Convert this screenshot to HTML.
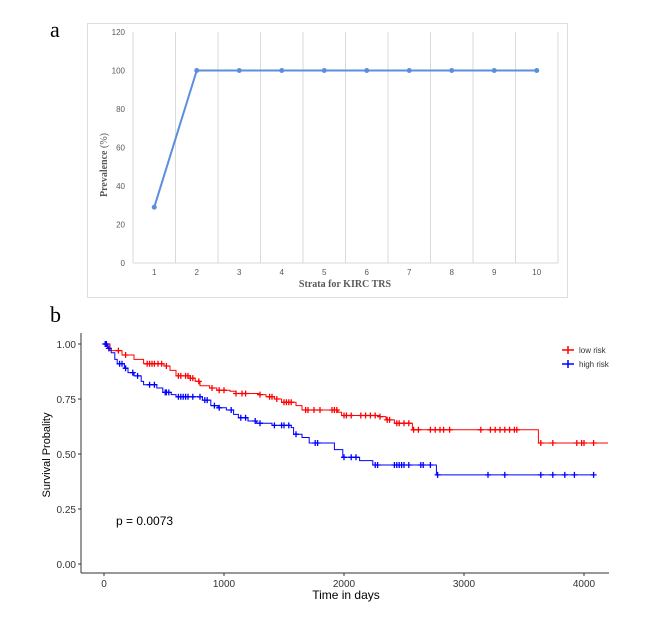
<!DOCTYPE html>
<html><head><meta charset="utf-8"><style>
body{margin:0;background:#fff;}
svg{display:block;font-family:"Liberation Sans",sans-serif;}
</style></head><body>
<svg id="svg" width="649" height="620" viewBox="0 0 649 620">
<text x="50" y="37" font-family="Liberation Serif,serif" font-size="22">a</text>
<rect x="87.5" y="23.5" width="480" height="274" fill="none" stroke="#ddd"/>
<g id="ga"></g>
<text x="50" y="322" font-family="Liberation Serif,serif" font-size="22">b</text>
<g id="gb"></g>
</svg>
<script>
const NS="http://www.w3.org/2000/svg";
function mk(p,t,a,txt){const e=document.createElementNS(NS,t);for(const k in a)e.setAttribute(k,a[k]);if(txt!==undefined)e.textContent=txt;p.appendChild(e);return e;}
// Panel a data
const strata=["1","2","3","4","5","6","7","8","9","10"];
const prevalence=[29,100,100,100,100,100,100,100,100,100];
const aYTicks=[0,20,40,60,80,100,120];
// Panel b data
const lowTimes=[0,50,150,250,330,500,550,600,720,760,800,880,940,1050,1100,1290,1350,1420,1480,1600,1650,1950,1980,2300,2350,2420,2570,3620];
const lowSurv=[1,0.97,0.95,0.93,0.91,0.9,0.88,0.855,0.845,0.83,0.81,0.8,0.79,0.785,0.775,0.77,0.76,0.75,0.735,0.72,0.7,0.69,0.675,0.67,0.655,0.64,0.61,0.55];
const lowCensor=[20,120,180,360,380,400,420,450,480,520,620,640,680,700,720,740,790,900,960,1000,1100,1150,1180,1300,1380,1400,1440,1500,1520,1540,1560,1680,1700,1750,1800,1900,1920,1940,2000,2020,2060,2140,2180,2220,2260,2300,2360,2380,2440,2460,2500,2540,2580,2620,2720,2760,2800,2830,2880,3140,3220,3260,3300,3340,3380,3420,3440,3640,3740,3940,3980,4000,4080];
const highTimes=[0,30,60,90,110,170,200,250,310,330,440,490,560,600,820,890,950,1020,1080,1120,1200,1270,1400,1560,1580,1650,1710,1920,1990,2130,2240,2770];
const highSurv=[1,0.98,0.96,0.93,0.91,0.89,0.87,0.855,0.83,0.815,0.8,0.78,0.77,0.76,0.745,0.72,0.71,0.7,0.68,0.665,0.65,0.64,0.63,0.62,0.59,0.575,0.55,0.52,0.485,0.47,0.45,0.405];
const highCensor=[10,20,40,130,150,180,240,280,380,420,510,520,540,620,640,660,680,700,740,800,840,860,920,960,1060,1140,1180,1260,1300,1420,1480,1500,1540,1600,1760,1780,2000,2060,2100,2260,2280,2420,2440,2460,2480,2500,2540,2640,2660,2720,2780,3200,3340,3640,3740,3840,3920,4080];
const bYTicks=[0,0.25,0.5,0.75,1.0];
const bXTicks=[0,1000,2000,3000,4000];

// Panel a
const ga=document.getElementById('ga');
const aL=133,aR=558,aT=32,aB=263;
const ax=i=>aL+(i+0.5)*(aR-aL)/strata.length;
const ay=v=>aB-(v/120)*(aB-aT);
for(let i=0;i<=strata.length;i++){const x=aL+i*(aR-aL)/strata.length;const l=mk(ga,'line',{x1:x,x2:x,y1:aT,y2:aB,stroke:'#d9d9d9','stroke-width':1});

}
let l0=mk(ga,'line',{x1:aL,x2:aR,y1:aB,y2:aB,stroke:'#d9d9d9'});

aYTicks.forEach(v=>{const t=mk(ga,'text',{x:aL-8,y:ay(v)+3,'font-size':8,fill:'#595959','text-anchor':'end'},v);

});
strata.forEach((s,i)=>{const t=mk(ga,'text',{x:ax(i),y:aB+12,'font-size':8,fill:'#595959','text-anchor':'middle'},s);

});
const pl=mk(ga,'polyline',{points:prevalence.map((v,i)=>ax(i)+','+ay(v)).join(' '),fill:'none',stroke:'#5b8fde','stroke-width':2});


prevalence.forEach((v,i)=>{const c=mk(ga,'circle',{cx:ax(i),cy:ay(v),r:2.5,fill:'#5b8fde'});

});
let t1=mk(ga,'text',{x:345,y:287,'font-size':10,'font-weight':'bold','font-family':'Liberation Serif,serif',fill:'#595959','text-anchor':'middle'},'Strata for KIRC TRS');

let t2=mk(ga,'text',{x:0,y:0,'font-size':10,'font-family':'Liberation Serif,serif',fill:'#595959','text-anchor':'middle',transform:'translate(107,165) rotate(-90)'});

mk(t2,'tspan',{'font-weight':'bold'},'Prevalence');mk(t2,'tspan',{},' (%)');

// Panel b
const gb=document.getElementById('gb');
const bL=81,bR=609,bT=333,bB=573;
const bx=t=>104+t*0.12;
const by=s=>564-s*220;
let ya=mk(gb,'line',{x1:bL,x2:bL,y1:bT,y2:bB,stroke:'#333'});

let xa=mk(gb,'line',{x1:bL,x2:bR,y1:bB,y2:bB,stroke:'#333'});

bYTicks.forEach(v=>{mk(gb,'line',{x1:bL-3,x2:bL,y1:by(v),y2:by(v),stroke:'#333'});
const t=mk(gb,'text',{x:bL-5,y:by(v)+4,'font-size':10,fill:'#333','text-anchor':'end'},v.toFixed(2));

});
bXTicks.forEach(v=>{mk(gb,'line',{x1:bx(v),x2:bx(v),y1:bB,y2:bB+3,stroke:'#333'});
const t=mk(gb,'text',{x:bx(v),y:bB+14,'font-size':10,fill:'#333','text-anchor':'middle'},v);

});
let xt=mk(gb,'text',{x:346,y:599,'font-size':12,fill:'#000','text-anchor':'middle'},'Time in days');

let yt=mk(gb,'text',{x:0,y:0,'font-size':11,fill:'#000','text-anchor':'middle',transform:'translate(50,455) rotate(-90)'},'Survival Probality');

let pv=mk(gb,'text',{x:116,y:525,'font-size':12,fill:'#000'},'p = 0.0073');

function stepAt(times,surv,t){let s=surv[0];for(let i=0;i<times.length;i++)if(times[i]<=t)s=surv[i];return s;}
function drawKM(times,surv,cens,end,color,name){
  let d='M'+bx(times[0])+','+by(surv[0]);
  for(let i=1;i<times.length;i++){d+=' H'+bx(times[i])+' V'+by(surv[i]);}
  d+=' H'+bx(end);
  const p=mk(gb,'path',{d:d,fill:'none',stroke:color,'stroke-width':1});
  
  
  cens.forEach(t=>{const x=bx(t),y=by(stepAt(times,surv,t));
    const c=mk(gb,'path',{d:`M${x-3},${y}H${x+3}M${x},${y-3}V${y+3}`,stroke:color,'stroke-width':1.3});
    
    });
}
drawKM(lowTimes,lowSurv,lowCensor,4200,'#ff0000','low-risk');
drawKM(highTimes,highSurv,highCensor,4080,'#0000ff','high-risk');
[['low risk','#ff0000',350],['high risk','#0000ff',364]].forEach(([lab,c,y])=>{
  const g=mk(gb,'g',{});
  
  
  mk(g,'path',{d:`M562,${y}H574M568,${y-4}V${y+4}`,stroke:c,'stroke-width':1.5});
  mk(g,'text',{x:579,y:y+3,'font-size':8,fill:'#333'},lab);
});
</script>
</body></html>
